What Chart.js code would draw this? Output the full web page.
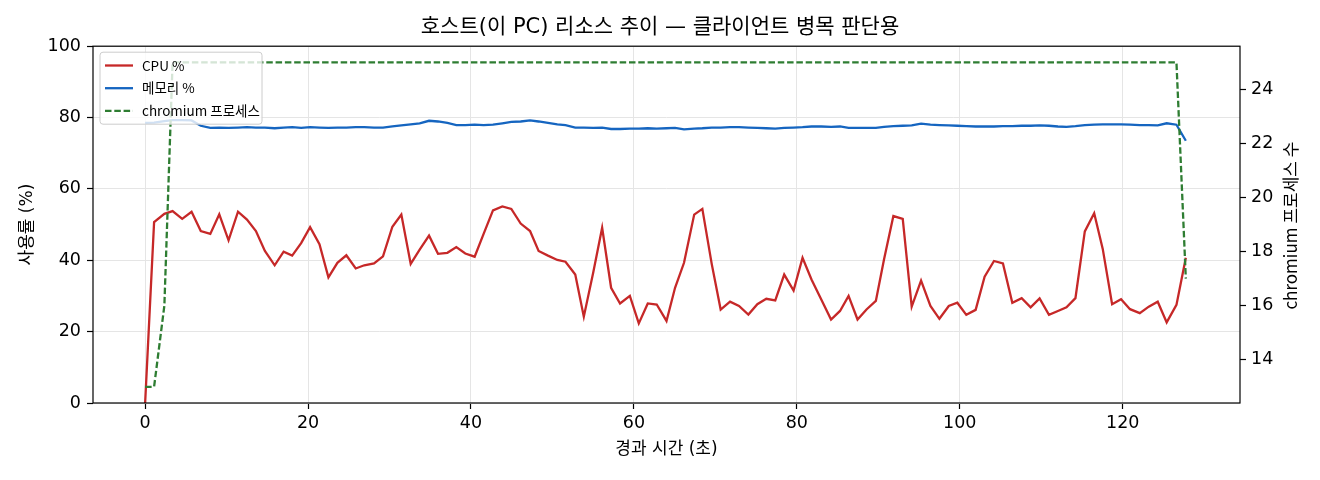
<!DOCTYPE html>
<html><head><meta charset="utf-8">
<script src="https://cdn.jsdelivr.net/npm/chart.js@4.4.1/dist/chart.umd.min.js"></script>
<style>html,body{margin:0;padding:0;background:#fff;}#wrap{width:1320px;height:480px;position:relative;}</style>
</head><body><div id="wrap"><canvas id="c"></canvas></div>
<script>
const times = [0, 1.1, 2.36, 3.37, 4.55, 5.7, 6.83, 8.0, 9.1, 10.24, 11.4, 12.5, 13.6, 14.7, 15.9, 17.0, 18.05, 19.15, 20.25, 21.4, 22.5, 23.6, 24.7, 25.85, 26.9, 28.1, 29.2,
  30.35, 31.45, 32.6, 33.7, 34.85, 35.95, 37.1, 38.2, 39.3, 40.45, 41.55, 42.7, 43.85, 44.95, 46.1, 47.25, 48.3, 49.45, 50.6, 51.6, 52.8, 53.85, 55.0, 56.1, 57.2, 58.3, 59.5, 60.6, 61.7, 62.8, 64.0,
  65.05, 66.15, 67.4, 68.4, 69.55, 70.65, 71.8, 72.9, 74.05, 75.15, 76.25, 77.35, 78.45, 79.6, 80.7, 81.8, 83.0, 84.2, 85.3, 86.35, 87.45, 88.55, 89.7, 90.7, 91.85, 93.0, 94.1, 95.25, 96.4, 97.5, 98.65,
  99.7, 100.8, 101.95, 103.05, 104.2, 105.3, 106.45, 107.6, 108.7, 109.8, 110.95, 112.05, 113.1, 114.2, 115.35, 116.5, 117.55, 118.7, 119.8, 120.9, 122.1, 123.2, 124.3, 125.4, 126.6, 127.75];
const cpuPct = [0, 50.7, 53.0, 53.8, 51.6, 53.6, 48.2, 47.4, 52.9, 45.6, 53.6, 51.4, 48.2, 42.6, 38.6, 42.4, 41.3, 44.8, 49.3, 44.5, 35.2, 39.3, 41.4, 37.7, 38.6, 39.1, 41.1,
  49.4, 52.8, 39.0, 43.0, 46.9, 41.8, 42.1, 43.7, 41.9, 41.0, 47.4, 54.0, 55.1, 54.4, 50.3, 48.2, 42.6, 41.3, 40.1, 39.6, 36.0, 24.2, 36.5, 49.1, 32.3, 27.9, 30.0, 22.3, 27.9, 27.6, 23.0,
  32.3, 39.3, 52.8, 54.4, 39.0, 26.2, 28.4, 27.2, 24.8, 27.7, 29.2, 28.75, 36.0, 31.5, 40.7, 34.6, 29.0, 23.4, 25.8, 30.0, 23.4, 26.2, 28.6, 40.2, 52.4, 51.6, 27.0, 34.3, 27.2, 23.6, 27.2,
  28.1, 24.7, 26.1, 35.4, 39.8, 39.1, 28.1, 29.4, 26.8, 29.3, 24.7, 25.8, 26.8, 29.4, 48.1, 53.2, 43.2, 27.7, 29.1, 26.3, 25.2, 27.0, 28.4, 22.6, 27.5, 40.7];
const memPct = [78.5, 78.6, 79.0, 79.3, 79.3, 79.2, 77.7, 77.1, 77.2, 77.1, 77.2, 77.3, 77.2, 77.2, 77.0, 77.2, 77.3, 77.1, 77.3, 77.2, 77.1, 77.2, 77.2, 77.3, 77.3, 77.2, 77.2,
  77.5, 77.8, 78.1, 78.4, 79.1, 78.9, 78.5, 77.9, 77.9, 78.0, 77.9, 78.0, 78.4, 78.8, 78.9, 79.2, 78.9, 78.5, 78.1, 77.9, 77.2, 77.2, 77.1, 77.2, 76.8, 76.8, 76.9, 76.9, 77.0, 76.9, 77.0,
  77.1, 76.7, 76.9, 77.0, 77.2, 77.2, 77.3, 77.3, 77.2, 77.1, 77.0, 76.9, 77.1, 77.2, 77.3, 77.5, 77.5, 77.4, 77.5, 77.1, 77.1, 77.1, 77.1, 77.4, 77.6, 77.7, 77.8, 78.3, 78.0, 77.9, 77.8,
  77.7, 77.6, 77.5, 77.5, 77.5, 77.6, 77.6, 77.7, 77.7, 77.8, 77.7, 77.5, 77.4, 77.6, 77.9, 78.0, 78.1, 78.1, 78.1, 78.0, 77.9, 77.9, 77.8, 78.4, 78.0, 73.5];
const chromiumProcs = [13, 13, 16,
  25, 25, 25, 25, 25, 25, 25, 25, 25, 25,
  25, 25, 25, 25, 25, 25, 25, 25, 25, 25,
  25, 25, 25, 25, 25, 25, 25, 25, 25, 25,
  25, 25, 25, 25, 25, 25, 25, 25, 25, 25,
  25, 25, 25, 25, 25, 25, 25, 25, 25, 25,
  25, 25, 25, 25, 25, 25, 25, 25, 25, 25,
  25, 25, 25, 25, 25, 25, 25, 25, 25, 25,
  25, 25, 25, 25, 25, 25, 25, 25, 25, 25,
  25, 25, 25, 25, 25, 25, 25, 25, 25, 25,
  25, 25, 25, 25, 25, 25, 25, 25, 25, 25,
  25, 25, 25, 25, 25, 25, 25, 25, 25, 25,
  25, 17];
const xTicks = [0, 20, 40, 60, 80, 100, 120];
const yTicks = [0, 20, 40, 60, 80, 100];
const y2Ticks = [14, 16, 18, 20, 22, 24];
const seriesLabels = ['CPU %', '메모리 %', 'chromium 프로세스'];
const titleText = '호스트(이 PC) 리소스 추이 — 클라이언트 병목 판단용';
const xLabel = '경과 시간 (초)';
const yLabel = '사용률 (%)';
const y2Label = 'chromium 프로세스 수';

const FONT = "'Noto Sans CJK KR', 'Noto Sans', sans-serif";
const FONT_DV = "'DejaVu Sans', 'Noto Sans CJK KR', sans-serif";
const COLORS = ['#c62828', '#1565c0', '#2e7d32'];
const DASHES = [[], [], [6.5, 2.8]];

function pts(ys) { return times.map((t, i) => ({ x: t, y: ys[i] })); }

const overlay = {
  id: 'overlay',
  afterDatasetsDraw(chart) {
    const { ctx, chartArea: a } = chart;
    ctx.save();
    ctx.strokeStyle = '#000';
    ctx.lineWidth = 1.2;
    ctx.strokeRect(a.left, a.top, a.right - a.left, a.bottom - a.top);
    const lx = a.left + 7, ly = a.top + 6, lw = 162, lh = 72, r = 3;
    ctx.beginPath();
    ctx.moveTo(lx + r, ly);
    ctx.lineTo(lx + lw - r, ly); ctx.arcTo(lx + lw, ly, lx + lw, ly + r, r);
    ctx.lineTo(lx + lw, ly + lh - r); ctx.arcTo(lx + lw, ly + lh, lx + lw - r, ly + lh, r);
    ctx.lineTo(lx + r, ly + lh); ctx.arcTo(lx, ly + lh, lx, ly + lh - r, r);
    ctx.lineTo(lx, ly + r); ctx.arcTo(lx, ly, lx + r, ly, r);
    ctx.closePath();
    ctx.fillStyle = 'rgba(255,255,255,0.8)';
    ctx.fill();
    ctx.strokeStyle = '#cccccc';
    ctx.lineWidth = 1;
    ctx.stroke();
    const rows = [13.3, 36, 58.7];
    ctx.font = '13.5px ' + FONT;
    ctx.textBaseline = 'middle';
    ctx.textAlign = 'left';
    seriesLabels.forEach((lab, i) => {
      const yy = ly + rows[i];
      ctx.beginPath();
      ctx.setLineDash(DASHES[i]);
      ctx.strokeStyle = COLORS[i];
      ctx.lineWidth = 2.3;
      ctx.moveTo(lx + 5, yy); ctx.lineTo(lx + 33, yy);
      ctx.stroke();
      ctx.setLineDash([]);
      ctx.fillStyle = '#000';
      ctx.fillText(lab, lx + 42, yy);
    });
    ctx.restore();
  },
  afterDraw(chart) {
    const { ctx, chartArea: a } = chart;
    ctx.save();
    ctx.translate(1291, (a.top + a.bottom) / 2 + 1);
    ctx.rotate(-Math.PI / 2);
    ctx.font = '17px ' + FONT;
    ctx.fillStyle = '#000';
    ctx.textAlign = 'center';
    ctx.textBaseline = 'middle';
    ctx.fillText(y2Label, 0, 0);
    ctx.restore();
  }
};

const tickFont = { family: FONT_DV, size: 17.5 };
const labelFont = { family: FONT_DV, size: 17 };
new Chart(document.getElementById('c'), {
  type: 'line',
  data: {
    datasets: [
      { label: seriesLabels[0], data: pts(cpuPct), yAxisID: 'y', borderColor: COLORS[0], borderWidth: 2.3, pointRadius: 0, tension: 0, fill: false, order: 3 },
      { label: seriesLabels[1], data: pts(memPct), yAxisID: 'y', borderColor: COLORS[1], borderWidth: 2.3, pointRadius: 0, tension: 0, fill: false, order: 2 },
      { label: seriesLabels[2], data: pts(chromiumProcs), yAxisID: 'y1', borderColor: COLORS[2], borderWidth: 2.3, borderDash: DASHES[2], pointRadius: 0, tension: 0, fill: false, order: 1 }
    ]
  },
  options: {
    responsive: true, maintainAspectRatio: false, animation: false, devicePixelRatio: 1,
    layout: { padding: 0 },
    plugins: {
      legend: { display: false }, tooltip: { enabled: false },
      title: { display: true, text: titleText, color: '#000', font: { family: FONT_DV, size: 21, weight: 'normal', lineHeight: 1.2 }, padding: { top: 15, bottom: 6 } }
    },
    scales: {
      x: {
        type: 'linear', min: -6.4, max: 134.4,
        afterBuildTicks: s => { s.ticks = xTicks.map(v => ({ value: v })); },
        afterFit: s => { s.height = 77; },
        grid: { color: '#e5e5e5', lineWidth: 1, tickColor: '#000', tickLength: 6, tickWidth: 1.2 },
        border: { display: false },
        ticks: { color: '#000', font: tickFont, padding: 4, maxRotation: 0, autoSkip: false },
        title: { display: true, text: xLabel, color: '#000', font: labelFont, padding: { top: 4, bottom: 20 } }
      },
      y: {
        position: 'left', min: 0, max: 100,
        afterBuildTicks: s => { s.ticks = yTicks.map(v => ({ value: v })); },
        afterFit: s => { s.width = 93; },
        grid: { color: '#e5e5e5', lineWidth: 1, tickColor: '#000', tickLength: 6, tickWidth: 1.2 },
        border: { display: false },
        ticks: { color: '#000', font: tickFont, padding: 6, autoSkip: false },
        title: { display: true, text: yLabel, color: '#000', font: labelFont, padding: { top: 17, bottom: 4 } }
      },
      y1: {
        position: 'right', min: 12.4, max: 25.6,
        afterBuildTicks: s => { s.ticks = y2Ticks.map(v => ({ value: v })); },
        afterFit: s => { s.width = 80; },
        grid: { drawOnChartArea: false, tickColor: '#000', tickLength: 6, tickWidth: 1.2 },
        border: { display: false },
        ticks: { color: '#000', font: tickFont, padding: 5, autoSkip: false }
      }
    }
  },
  plugins: [overlay]
});
</script></body></html>
